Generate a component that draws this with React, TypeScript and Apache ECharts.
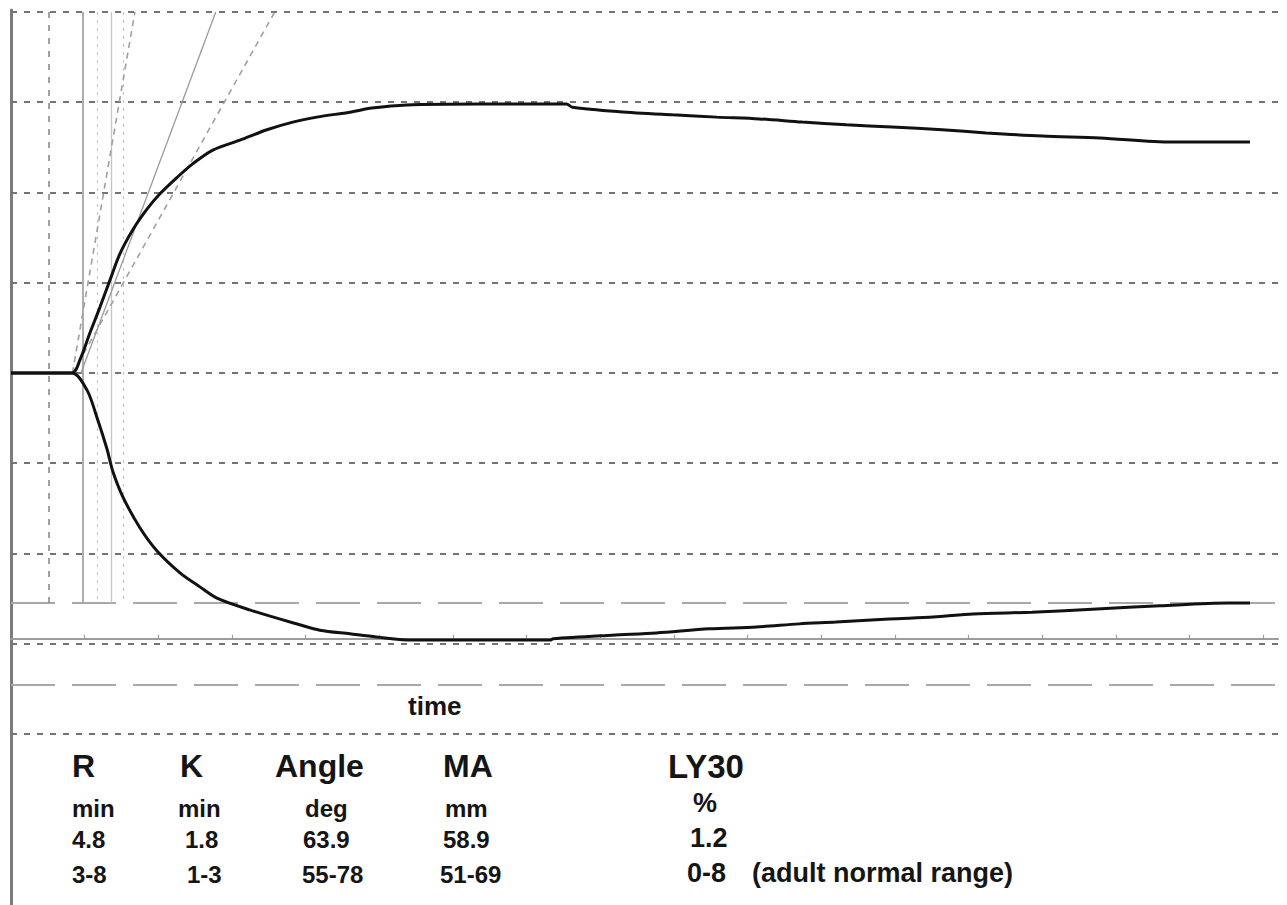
import React, { useEffect, useRef } from 'react';
import * as echarts from 'echarts';

// ---- Data (time in minutes, amplitude in mm) ----
const TIME_UPPER = [0, 4.14, 4.68, 5.36, 6.04, 6.72, 7.39, 8.28, 9.23, 10.11, 11.26, 12.35, 13.7, 15.54, 17.37, 19.13, 20.76, 23.0, 24.5, 26.87, 31.8, 37.7, 38.1, 41.3, 44.9, 47.9, 50.8, 53.7, 56.7, 59.8, 63.2, 66.2, 70.0, 73.9, 78.8, 84.1];
const AMP_UPPER = [0, 0, 2.9, 8.9, 14.6, 20.6, 26.4, 31.8, 36.3, 39.7, 43.3, 46.4, 49.4, 51.6, 53.9, 55.6, 56.7, 57.8, 58.7, 59.4, 59.6, 59.6, 58.9, 57.9, 57.2, 56.7, 56.3, 55.6, 55.0, 54.5, 53.9, 53.2, 52.5, 52.1, 51.2, 51.2];

const TIME_LOWER = [0, 4.14, 5.16, 5.83, 6.51, 6.92, 7.6, 8.75, 9.9, 11.47, 12.82, 13.98, 16.2, 19.6, 20.96, 23.0, 24.8, 27.3, 36.6, 36.8, 40.8, 43.8, 47.4, 50.6, 53.5, 56.0, 59.6, 62.6, 65.3, 69.3, 73.7, 78.0, 82.6, 84.1];
const AMP_LOWER = [0, 0, -3.8, -9.8, -16.8, -21.9, -27.5, -34.3, -39.4, -44.3, -47.4, -49.9, -52.5, -55.8, -57.0, -57.8, -58.5, -59.2, -59.2, -58.9, -58.1, -57.6, -56.7, -56.3, -55.6, -55.2, -54.5, -54.1, -53.4, -53.0, -52.3, -51.6, -51.0, -51.0];

const GRID_VALUES = [-80, -60, -40, -20, 0, 20, 40, 60, 80];
const MA_VALUE = -58.9;
const MA_RANGE = [-51, -69];
const TIME_TICKS = [5, 10, 15, 20, 25, 30, 35, 40, 45, 50, 55, 60, 65, 70, 75, 80, 85];

// vertical reference lines (min): R-range low, R, faint, R+K, faint
const REF_TIMES = [2.58, 4.88, 5.83, 6.78, 7.6];
const REF_TOP = 80;
const REF_BOTTOM = -51;

// angle tangent lines: [t0, a0, t1, a1]
const ANGLE_MEASURED = [4.75, 0, 13.9, 80];
const ANGLE_LOW = [4.2, 0, 17.9, 80];
const ANGLE_HIGH = [4.17, 0, 8.41, 80];

const HEADERS = ['R', 'K', 'Angle', 'MA', 'LY30'];
const UNITS = ['min', 'min', 'deg', 'mm', '%'];
const VALUES = ['4.8', '1.8', '63.9', '58.9', '1.2'];
const RANGES = ['3-8', '1-3', '55-78', '51-69', '0-8'];
const NOTE = '(adult normal range)';
const X_LABEL = 'time';

const X_MAX = 86;
const Y_MAX = 80.44;
const Y_MIN = -117.9;

export default function App() {
  const ref = useRef<HTMLDivElement>(null);

  useEffect(() => {
    const chart = echarts.init(ref.current!, null, { renderer: 'svg' });
    const H = 905;
    const gridTop = 10;
    const gridLeft = 11;
    const gridRight = 9;
    const pxPerMm = (H - gridTop) / (Y_MAX - Y_MIN);
    const axisOffset = -(MA_VALUE - Y_MIN) * pxPerMm;

    const FONT = "'Liberation Sans', Arial, Helvetica, sans-serif";
    const textEl = (text: string, x: number, y: number, size: number) => ({
      type: 'text',
      x,
      y,
      silent: true,
      style: {
        text,
        font: `bold ${size}px ${FONT}`,
        fill: '#151515',
        textAlign: 'left',
        align: 'left',
        textVerticalAlign: 'middle',
        verticalAlign: 'middle',
      },
    });

    const headerLeft = [72, 180, 275, 443, 668];
    const unitLeft = [72, 178, 305, 445, 693];
    const valueLeft = [72, 185, 303, 443, 690];
    const rangeLeft = [72, 187, 302, 440, 687];
    const graphics: any[] = [];
    HEADERS.forEach((h, i) => graphics.push(textEl(h, headerLeft[i], 766, i === 4 ? 33 : 32)));
    UNITS.forEach((h, i) => graphics.push(textEl(h, unitLeft[i], i === 4 ? 803 : 808, i === 4 ? 27 : 24)));
    VALUES.forEach((h, i) => graphics.push(textEl(h, valueLeft[i], i === 4 ? 838 : 839, i === 4 ? 27 : 24)));
    RANGES.forEach((h, i) => graphics.push(textEl(h, rangeLeft[i], i === 4 ? 873 : 874, i === 4 ? 27 : 24)));
    graphics.push(textEl(NOTE, 752, 873, 27));
    graphics.push(textEl(X_LABEL, 408, 706, 26));

    const upper = TIME_UPPER.map((t, i) => [t, AMP_UPPER[i]]);
    const lower = TIME_LOWER.map((t, i) => [t, AMP_LOWER[i]]);

    const seg = (a: number[], style: any) => [
      { coord: [a[0], a[1]], lineStyle: style },
      { coord: [a[2], a[3]] },
    ];
    const vStyles = [
      { color: '#8a8a8a', width: 1.6, type: [6, 7] },
      { color: '#9a9a9a', width: 1.6, type: 'solid' },
      { color: '#c8c8c8', width: 1.2, type: [3, 5] },
      { color: '#c4c4c4', width: 1.3, type: 'solid' },
      { color: '#c8c8c8', width: 1.2, type: [3, 5] },
    ];

    const option: any = {
      animation: false,
      backgroundColor: '#ffffff',
      grid: { left: gridLeft, right: gridRight, top: gridTop, bottom: 0, containLabel: false },
      xAxis: {
        type: 'value',
        min: 0,
        max: X_MAX,
        position: 'bottom',
        offset: axisOffset,
        axisLine: { show: true, onZero: false, lineStyle: { color: '#9c9c9c', width: 2 } },
        axisTick: { show: true, inside: true, length: 4, customValues: TIME_TICKS, lineStyle: { color: '#9c9c9c', width: 1.2 } },
        axisLabel: { show: false },
        splitLine: { show: false },
      },
      yAxis: {
        type: 'value',
        min: Y_MIN,
        max: Y_MAX,
        axisLine: { show: true, onZero: false, lineStyle: { color: '#7c7c7c', width: 3 } },
        axisTick: { show: false },
        axisLabel: { show: false },
        splitLine: { show: false },
      },
      graphic: graphics,
      series: [
        {
          type: 'line',
          data: [],
          z: 1,
          silent: true,
          markLine: {
            silent: true,
            symbol: 'none',
            label: { show: false },
            lineStyle: { color: '#747474', width: 2, type: [6, 7] },
            data: GRID_VALUES.map((v) => ({ yAxis: v })),
          },
        },
        {
          type: 'line',
          data: [],
          z: 1,
          silent: true,
          markLine: {
            silent: true,
            symbol: 'none',
            label: { show: false },
            lineStyle: { color: '#a8a8a8', width: 2, type: [44, 17] },
            data: MA_RANGE.map((v) => ({ yAxis: v })),
          },
        },
        {
          type: 'line',
          data: [],
          z: 2,
          silent: true,
          markLine: {
            silent: true,
            symbol: 'none',
            label: { show: false },
            data: [
              ...REF_TIMES.map((t, i) => [
                { coord: [t, REF_TOP], lineStyle: vStyles[i] },
                { coord: [t, REF_BOTTOM] },
              ]),
              seg(ANGLE_MEASURED, { color: '#9a9a9a', width: 1.3, type: 'solid' }),
              seg(ANGLE_LOW, { color: '#a0a0a0', width: 1.6, type: [6, 5] }),
              seg(ANGLE_HIGH, { color: '#a0a0a0', width: 1.6, type: [6, 5] }),
            ],
          },
        },
        {
          type: 'line',
          data: upper,
          z: 5,
          showSymbol: false,
          symbol: 'none',
          smooth: 0.3,
          lineStyle: { color: '#111111', width: 3 },
        },
        {
          type: 'line',
          data: lower,
          z: 5,
          showSymbol: false,
          symbol: 'none',
          smooth: 0.3,
          lineStyle: { color: '#111111', width: 3 },
        },
      ],
    };
    chart.setOption(option);
    return () => chart.dispose();
  }, []);

  return (
    <div
      ref={ref}
      style={{ position: 'absolute', left: 0, top: 0, width: 1287, height: 905, background: '#fff' }}
    />
  );
}
